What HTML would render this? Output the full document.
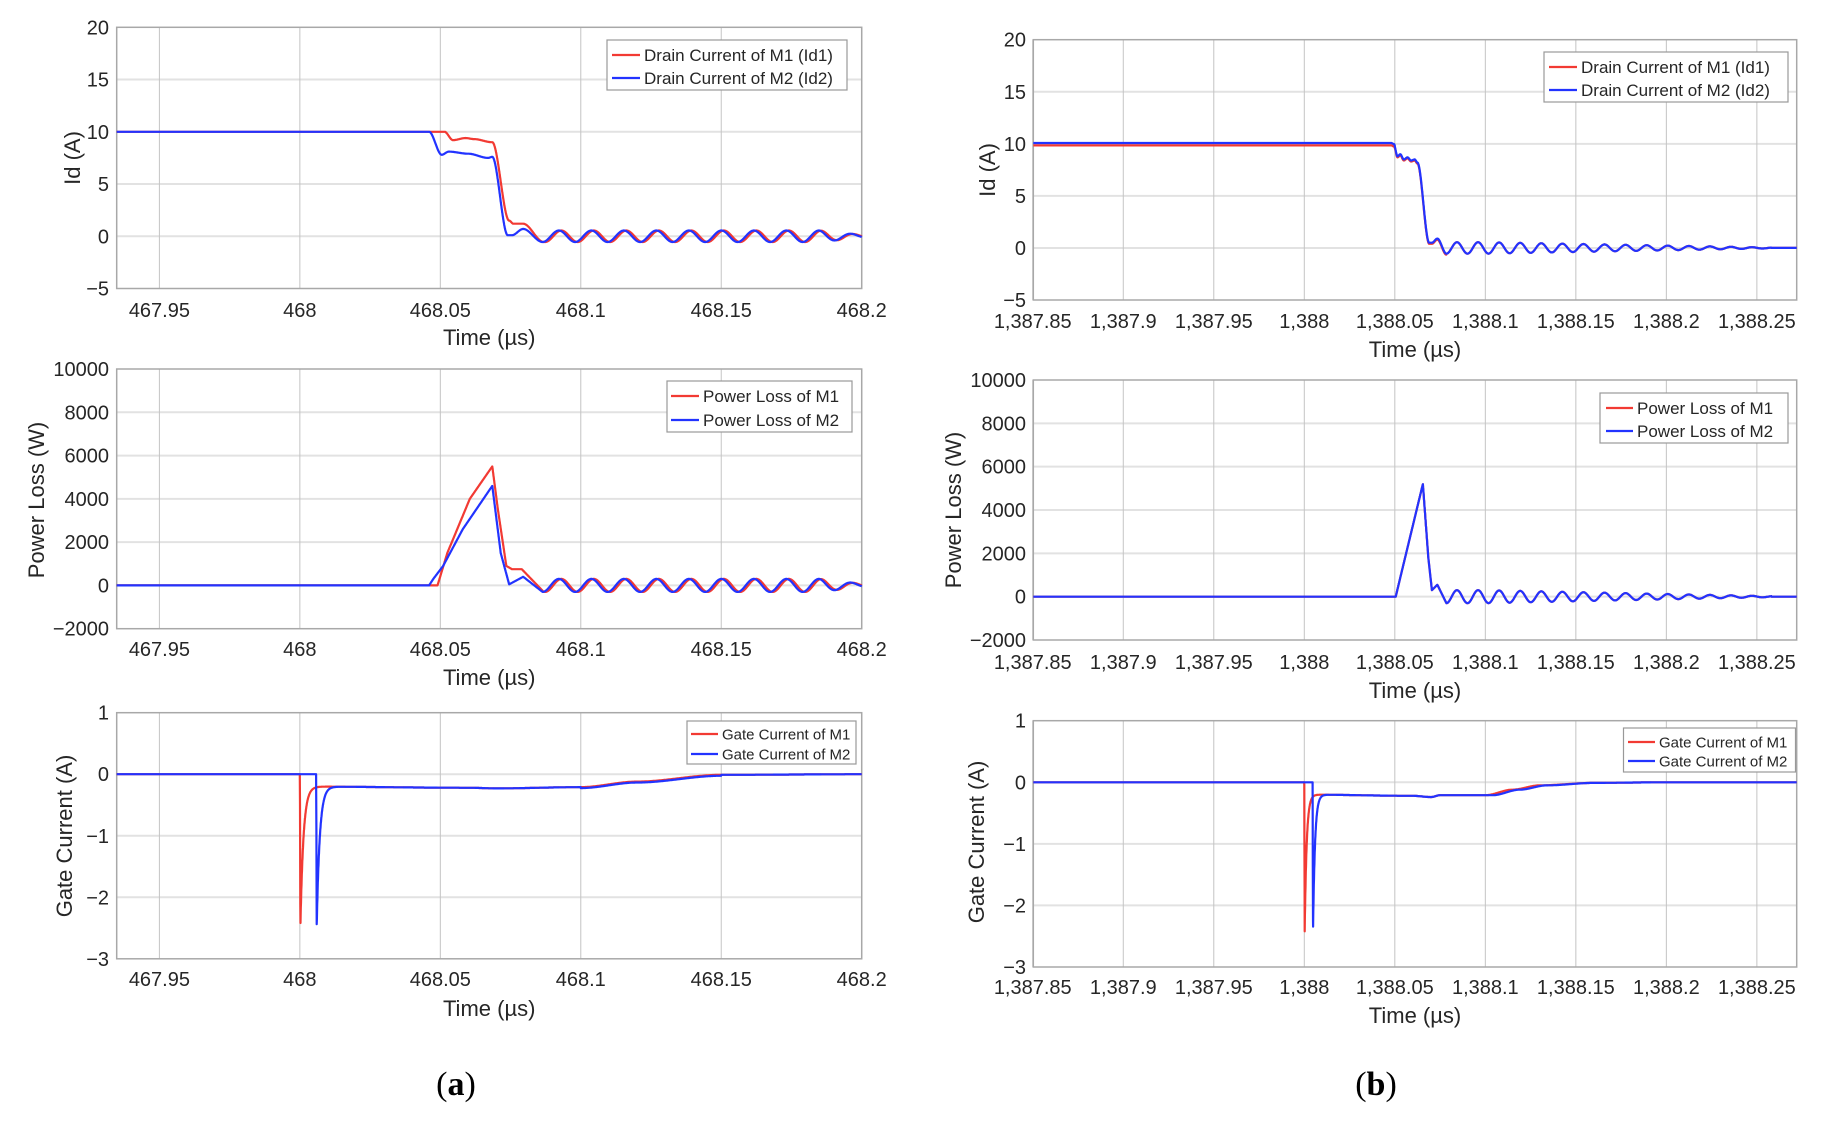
<!DOCTYPE html>
<html><head><meta charset="utf-8"><style>
html,body{margin:0;padding:0;background:#fff;}
svg{display:block;font-family:"Liberation Sans",Arial,sans-serif;}
</style></head><body>
<svg id="s" width="1829" height="1133" viewBox="0 0 1829 1133" xmlns="http://www.w3.org/2000/svg">
<text x="456" y="1095" font-family="Liberation Serif,serif" font-size="34" text-anchor="middle">(<tspan font-weight="bold">a</tspan>)</text>
<text x="1376" y="1095" font-family="Liberation Serif,serif" font-size="34" text-anchor="middle">(<tspan font-weight="bold">b</tspan>)</text>
</svg>
<script>
var S=document.getElementById('s'),NS='http://www.w3.org/2000/svg';
function el(t,a,txt){var e=document.createElementNS(NS,t);for(var k in a)e.setAttribute(k,a[k]);if(txt!=null)e.textContent=txt;S.appendChild(e);return e;}
function lerpPts(pts,x,lin){if(x<=pts[0][0])return pts[0][1];for(var i=1;i<pts.length;i++){if(x<=pts[i][0]){var a=pts[i-1],b=pts[i];var t=(x-a[0])/(b[0]-a[0]);if(!lin)t=t*t*(3-2*t);return a[1]+(b[1]-a[1])*t;}}return pts[pts.length-1][1];}
function panel(P){
 var xl=P.x0,xr=P.x1,yt=P.y0,yb=P.y1;
 var X=function(v){return xl+(v-P.vx0)*(xr-xl)/(P.vx1-P.vx0);};
 var Y=function(v){return yb-(v-P.vy0)*(yb-yt)/(P.vy1-P.vy0);};
 el('rect',{x:xl,y:yt,width:xr-xl,height:yb-yt,fill:'#fff',stroke:'none'});
 P.yt.forEach(function(v){var y=Y(v);if(v!=P.vy0&&v!=P.vy1)el('line',{x1:xl,x2:xr,y1:y,y2:y,stroke:'#e2e2e2','stroke-width':2});
  el('text',{x:P.ylx,y:y+7,'font-size':20,'text-anchor':'end',fill:'#262626'},P.yfmt(v));});
 P.xt.forEach(function(v){var x=X(v);el('line',{x1:x,x2:x,y1:yt,y2:yb,stroke:'#c4c4c4','stroke-width':1});
  el('text',{x:x,y:P.xly,'font-size':20,'text-anchor':'middle',fill:'#262626'},P.xfmt(v));});
 el('rect',{x:xl,y:yt,width:xr-xl,height:yb-yt,fill:'none',stroke:'#a8a8a8','stroke-width':1.5});
 el('text',{x:(xl+xr)/2,y:P.tly,'font-size':22,'text-anchor':'middle',fill:'#262626'},'Time (µs)');
 el('text',{x:0,y:0,'font-size':22,'text-anchor':'middle',fill:'#262626',transform:'translate('+P.ylabx+','+P.ylaby+') rotate(-90)'},P.ylab);
 P.series.forEach(function(s){var d='';var n=6000;for(var i=0;i<=n;i++){var v=P.vx0+(P.vx1-P.vx0)*i/n;var f=s.f(v);d+=(i?'L':'M')+X(v).toFixed(1)+' '+Y(f).toFixed(1);}
  el('path',{d:d,fill:'none',stroke:s.c,'stroke-width':2.2,'stroke-linejoin':'round'});});
 var L=P.leg;el('rect',{x:L.x,y:L.y,width:L.w,height:L.h,fill:'#fff',stroke:'#999','stroke-width':1.2});
 L.items.forEach(function(it,i){var y=L.ey[i];el('line',{x1:L.lx,x2:L.lx+L.ll,y1:y,y2:y,stroke:it[1],'stroke-width':2.2});
  el('text',{x:L.lx+L.ll+4,y:y+L.fs*0.36,'font-size':L.fs,fill:'#262626'},it[0]);});
}
var R='#f23a33',B='#2233ff';
var Lx={x0:116.7,x1:861.7,vx0:467.9348,vx1:468.2,xt:[467.95,468,468.05,468.1,468.15,468.2],xfmt:function(v){return String(v);},ylx:109};
var Rx={x0:1033.3,x1:1796.7,vx0:1387.8503,vx1:1388.272,xt:[1387.85,1387.9,1387.95,1388,1388.05,1388.1,1388.15,1388.2,1388.25],xfmt:function(v){var s=String(+v.toFixed(2));return '1,'+s.slice(1);},ylx:1026};
function mk(base,o){var r={};for(var k in base)r[k]=base[k];for(k in o)r[k]=o[k];return r;}
var nf=function(v){return v<0?'\u2212'+(-v):String(v);};
var T0=468.0868,PER=0.01157;
function idRing(t,ph){return 0.55*Math.cos(2*Math.PI*(t-T0-ph)/PER+Math.PI)*(t>468.185?Math.max(0.2,1-(t-468.185)/0.02):1);}
panel(mk(Lx,{y0:27.3,y1:288.5,vy0:-5,vy1:20,yt:[-5,0,5,10,15,20],yfmt:nf,xly:317,tly:345,ylab:'Id (A)',ylabx:80,ylaby:158,
 series:[{c:R,f:function(t){if(t<T0)return lerpPts([[468.047,10],[468.0515,10],[468.0545,9.2],[468.059,9.4],[468.062,9.3],[468.0685,9],[468.0745,1.5],[468.076,1.2],[468.0795,1.2],[468.0868,-0.55]],t);return idRing(t,0.0005);}},
 {c:B,f:function(t){if(t<T0-0.0004)return lerpPts([[468.046,10],[468.0505,7.8],[468.053,8.1],[468.06,7.9],[468.067,7.5],[468.0685,7.6],[468.074,0.1],[468.0755,0.1],[468.0795,0.7],[468.0864,-0.55]],t);return idRing(t,-0.0004);}}],
 leg:{x:607,y:40,w:240,h:50,lx:612,ll:28,fs:17,ey:[55,78],items:[['Drain Current of M1 (Id1)',R],['Drain Current of M2 (Id2)',B]]}}));
function pRing(t,ph){return 300*Math.cos(2*Math.PI*(t-T0-ph)/PER+Math.PI)*(t>468.185?Math.max(0.2,1-(t-468.185)/0.02):1);}
panel(mk(Lx,{y0:369,y1:628.7,vy0:-2000,vy1:10000,yt:[-2000,0,2000,4000,6000,8000,10000],yfmt:nf,xly:656,tly:685,ylab:'Power Loss (W)',ylabx:44,ylaby:500,
 series:[{c:R,f:function(t){if(t<T0)return lerpPts([[468.047,0],[468.049,0],[468.0525,1500],[468.0605,4000],[468.0685,5500],[468.0705,3500],[468.0735,900],[468.0755,750],[468.079,750],[468.0868,-300]],t,true);return pRing(t,0.0005);}},
 {c:B,f:function(t){if(t<T0-0.0004)return lerpPts([[468.046,0],[468.0475,300],[468.051,900],[468.058,2600],[468.0685,4600],[468.0715,1500],[468.0745,50],[468.0795,400],[468.0864,-300]],t,true);return pRing(t,-0.0004);}}],
 leg:{x:667,y:381,w:185,h:51,lx:671,ll:28,fs:17,ey:[396,420],items:[['Power Loss of M1',R],['Power Loss of M2',B]]}}));
function gate(t,ts){if(t<ts)return 0;if(t<ts+0.0002)return -2.45*(t-ts)/0.0002;var k=(t-ts-0.0002);var sp=-0.2-2.25*Math.exp(-k/0.0011);var base=lerpPts([[468.0,-0.2],[468.06,-0.22],[468.07,-0.23],[468.1,-0.21],[468.12,-0.12],[468.15,-0.01],[468.2,0]],t);return Math.min(sp+0.2,0)+base;}
panel(mk(Lx,{y0:712.7,y1:958.8,vy0:-3,vy1:1,yt:[-3,-2,-1,0,1],yfmt:nf,xly:986,tly:1016,ylab:'Gate Current (A)',ylabx:72,ylaby:836,
 series:[{c:R,f:function(t){return gate(t,468.0);}},{c:B,f:function(t){return gate(t,468.0058)+(t>468.1&&t<468.15?-0.015:0);}}],
 leg:{x:687,y:721,w:169,h:43,lx:691,ll:27,fs:15,ey:[734,754],items:[['Gate Current of M1',R],['Gate Current of M2',B]]}}));
var T1=1388.0785,PR=0.01165;
function rDec(t){return Math.max(0.08,1-(t-1388.1)/0.17);}
function rId(t){if(t>1388.258)return 0;return 0.55*Math.cos(2*Math.PI*(t-T1)/PR+Math.PI)*(t>1388.1?rDec(t):1);}
var rIdPts=[[1388.048,10],[1388.0495,9.9],[1388.0515,8.8],[1388.053,9.0],[1388.055,8.5],[1388.057,8.7],[1388.059,8.4],[1388.061,8.5],[1388.0625,8.2],[1388.069,0.5],[1388.0705,0.5],[1388.0735,0.9],[1388.0785,-0.55]];
panel(mk(Rx,{y0:39.7,y1:300,vy0:-5,vy1:20,yt:[-5,0,5,10,15,20],yfmt:nf,xly:328,tly:357,ylab:'Id (A)',ylabx:995,ylaby:170,
 series:[{c:R,f:function(t){return t<T1?lerpPts(rIdPts,t)-(t<1388.05?0.15:0.1):rId(t);}},{c:B,f:function(t){return t<T1?lerpPts(rIdPts,t)+(t<1388.05?0.08:0):rId(t);}}],
 leg:{x:1544,y:52,w:244,h:50,lx:1549,ll:28,fs:17,ey:[67,90],items:[['Drain Current of M1 (Id1)',R],['Drain Current of M2 (Id2)',B]]}}));
function rP(t){if(t>1388.258)return 0;return 300*Math.cos(2*Math.PI*(t-T1)/PR+Math.PI)*(t>1388.1?rDec(t):1);}
var rPP=[[1388.048,0],[1388.0505,0],[1388.0525,700],[1388.0655,5200],[1388.0685,1800],[1388.0705,300],[1388.0735,550],[1388.0785,-300]];
panel(mk(Rx,{y0:380,y1:640,vy0:-2000,vy1:10000,yt:[-2000,0,2000,4000,6000,8000,10000],yfmt:nf,xly:669,tly:698,ylab:'Power Loss (W)',ylabx:961,ylaby:510,
 series:[{c:R,f:function(t){return t<T1?lerpPts(rPP,t,true):rP(t);}},{c:B,f:function(t){return t<T1?lerpPts(rPP,t,true):rP(t);}}],
 leg:{x:1600,y:393,w:188,h:50,lx:1606,ll:27,fs:17,ey:[408,431],items:[['Power Loss of M1',R],['Power Loss of M2',B]]}}));
function rgate(t,ts,lag){if(t<ts)return 0;if(t<ts+0.0002)return -2.45*(t-ts)/0.0002;var k=(t-ts-0.0002);var sp=-0.2-2.25*Math.exp(-k/0.0011);var base=lerpPts([[1388.0,-0.2],[1388.06,-0.22],[1388.07,-0.24],[1388.075,-0.21],[1388.1+lag,-0.21],[1388.115+lag,-0.12],[1388.13+lag,-0.05],[1388.16,-0.01],[1388.2,0]],t);return Math.min(sp+0.2,0)+base;}
panel(mk(Rx,{y0:720.7,y1:967,vy0:-3,vy1:1,yt:[-3,-2,-1,0,1],yfmt:nf,xly:994,tly:1023,ylab:'Gate Current (A)',ylabx:984,ylaby:842,
 series:[{c:R,f:function(t){return rgate(t,1388.0,0);}},{c:B,f:function(t){return rgate(t,1388.0046,0.004);}}],
 leg:{x:1623.5,y:728,w:172,h:44,lx:1628,ll:27,fs:15,ey:[742,761],items:[['Gate Current of M1',R],['Gate Current of M2',B]]}}));
</script>
</body></html>
